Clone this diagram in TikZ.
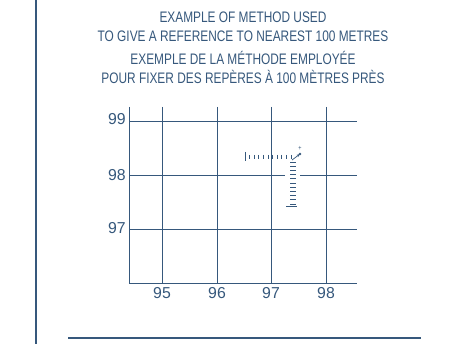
\documentclass[tikz,border=0pt]{standalone}
\usepackage{fontspec}
\setmainfont{Liberation Sans}[FakeStretch=0.78]
\newfontfamily\numfont{Liberation Sans}
\usetikzlibrary{arrows.meta,positioning,calc}
\definecolor{inkblue}{HTML}{36587C}

\begin{document}
\begin{tikzpicture}[x=0.03cm,y=-0.03cm,
  grid line/.style={draw=inkblue, line width=0.7pt},
  num/.style={text=inkblue, font=\numfont\fontsize{13.5}{14}\selectfont, inner sep=0pt},
  tick/.style={draw=inkblue, line width=0.6pt}]
\useasboundingbox (0,0) rectangle (453,344);
\fill[white] (0,0) rectangle (453,344);

\draw[inkblue, line width=1pt] (36,0) -- (36,344);
\draw[inkblue, line width=1pt] (68,338) -- (421,338);

\node[text=inkblue, align=center, font=\fontsize{13}{16}\selectfont] (title) at (243,47.5) {%
  EXAMPLE OF METHOD USED\\
  TO GIVE A REFERENCE TO NEAREST 100 METRES\\[4pt]
  EXEMPLE DE LA MÉTHODE EMPLOYÉE\\
  POUR FIXER DES REPÈRES À 100 MÈTRES PRÈS};

\draw[grid line] (129,107) -- (129,283) -- (357,283);
\foreach \x in {162,217,271,326}
  \draw[grid line] (\x,107) -- (\x,283);
\draw[grid line] (129,121) -- (357,121);
\draw[grid line] (129,175) -- (285,175);
\draw[grid line] (300,175) -- (357,175);
\draw[grid line] (129,229) -- (357,229);

\node[num, anchor=east] (lab99) at (126,119) {99};
\node[num, anchor=east] (lab98) at (126,175) {98};
\node[num, anchor=east] (lab97) at (126,228) {97};
\node[num] (lab95) at (162,293) {95};
\node[num] (lab96) at (217,293) {96};
\node[num] (lab97x) at (271,293) {97};
\node[num] (lab98x) at (326,293) {98};

\draw[tick] (245,152) -- (245,161);
\foreach \i in {1,...,10}
  \draw[tick] ({245+4.6*\i},155) -- ({245+4.6*\i},159);
\foreach \i in {0,...,10}
  \draw[tick] (290,{162+4.2*\i}) -- (296,{162+4.2*\i});
\draw[tick] (286,206) -- (297,206);

\coordinate (corner) at (292,160);
\coordinate (pt) at (300,154);
\fill[inkblue] (pt) circle (1.4);
\draw[inkblue, line width=0.6pt, -{Stealth[length=3pt]}] (corner) -- (pt);
\node[text=inkblue, font=\fontsize{6}{6}\selectfont, inner sep=0pt] (plus) at (300,148) {+};
\end{tikzpicture}
\end{document}
